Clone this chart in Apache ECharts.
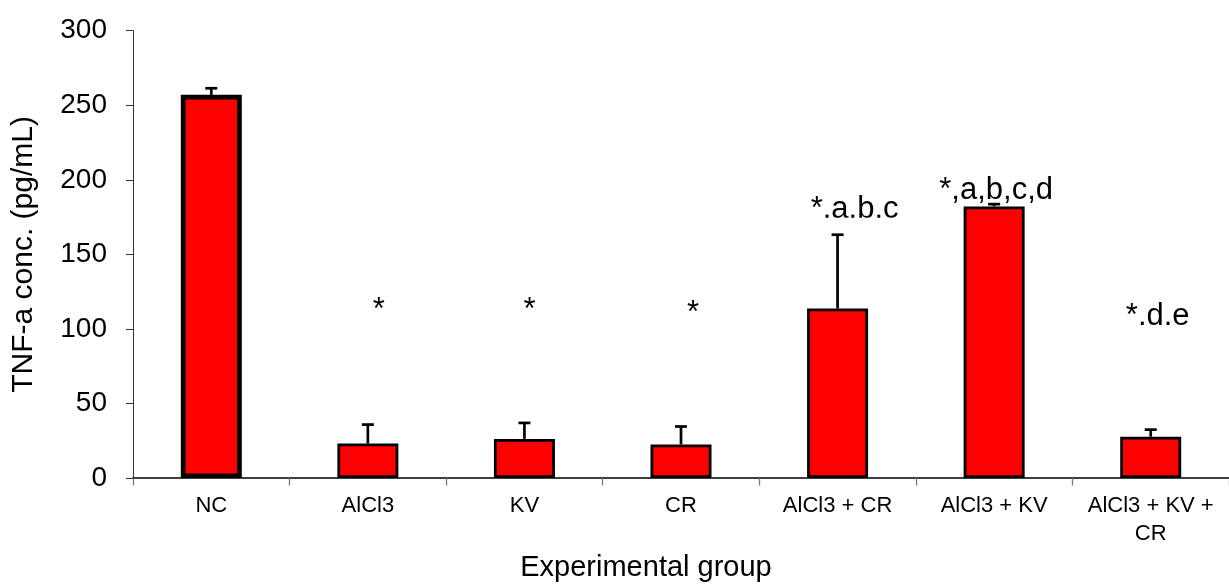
<!DOCTYPE html>
<html>
<head>
<meta charset="utf-8">
<script src="https://cdn.jsdelivr.net/npm/echarts@6/dist/echarts.min.js"></script>
<style>html,body{margin:0;padding:0;background:#fff}#c{width:1229px;height:587px}</style>
</head>
<body>
<div id="c"></div>
<script>
const categories = ['NC', 'AlCl3', 'KV', 'CR', 'AlCl3 + CR', 'AlCl3 + KV', 'AlCl3 + KV +\nCR'];
const means = [257, 23.2, 26.3, 22.6, 113.7, 182.2, 27.8];
const errors = [4.4, 12.7, 10.7, 12, 49.5, 1.5, 4.7];
const annotationText = ['', '*', '*', '*', '*.a.b.c', '*,a,b,c,d', '*.d.e'];
const annotationY = [null, 112.1, 112.1, 110.2, 180, 193, 108.5];
const annotationClipped = [false, false, false, false, true, false, false];
const yTicks = [0, 50, 100, 150, 200, 250, 300];

const annOffsetX = [0, 11, 5, 12, 17, 2, 7];
const FONT = 'Liberation Sans, Arial, sans-serif';
const ANN_SIZE = 31;

const chart = echarts.init(document.getElementById('c'));
const barData = means.map((v, i) => ({
  value: v,
  itemStyle: { borderWidth: i === 0 ? 4.7 : 2.8 }
}));
const annData = [];
annotationText.forEach((t, i) => {
  if (t) annData.push([i, annotationY[i]]);
});

chart.setOption({
  animation: false,
  grid: { left: 133, top: 30.7, width: 1106, bottom: 88.7, containLabel: false },
  xAxis: {
    type: 'category',
    data: categories,
    axisLine: { lineStyle: { color: '#000', width: 1.5 } },
    axisTick: { show: true, length: 7.5, lineStyle: { color: '#777', width: 1.3 } },
    axisLabel: { color: '#000', fontFamily: FONT, fontSize: 22, margin: 14, lineHeight: 28, interval: 0 },
    name: 'Experimental group',
    nameLocation: 'middle',
    nameGap: 62,
    nameTextStyle: { color: '#000', fontFamily: FONT, fontSize: 29, padding: [0, 70, 0, 0] }
  },
  yAxis: {
    type: 'value',
    min: 0, max: 300, interval: 50,
    splitLine: { show: false },
    axisLine: { show: true, lineStyle: { color: '#333', width: 1 } },
    axisTick: { show: true, length: 7, lineStyle: { color: '#333' } },
    axisLabel: { color: '#000', fontFamily: FONT, fontSize: 28, margin: 26, padding: [0, 0, 8, 0],
      formatter: v => yTicks.includes(v) ? String(v) : '' },
    name: 'TNF-a conc. (pg/mL)',
    nameLocation: 'middle',
    nameGap: 94,
    nameTextStyle: { color: '#000', fontFamily: FONT, fontSize: 30 }
  },
  series: [
    {
      type: 'bar',
      data: barData,
      barWidth: 61,
      itemStyle: { color: '#ff0000', borderColor: '#000', borderWidth: 2.8 },
      z: 2
    },
    {
      type: 'custom',
      data: means.map((v, i) => [i, v, v + errors[i]]),
      renderItem: function (params, api) {
        const i = api.value(0);
        const p0 = api.coord([i, api.value(1)]);
        const p1 = api.coord([i, api.value(2)]);
        const hw = 6;
        return {
          type: 'group',
          children: [
            { type: 'line', shape: { x1: p0[0], y1: p0[1], x2: p1[0], y2: p1[1] }, style: { stroke: '#000', lineWidth: 2.7 } },
            { type: 'line', shape: { x1: p1[0] - hw, y1: p1[1], x2: p1[0] + hw, y2: p1[1] }, style: { stroke: '#000', lineWidth: 2.7 } }
          ]
        };
      },
      z: 1
    },
    {
      type: 'custom',
      data: annData,
      renderItem: function (params, api) {
        const i = api.value(0);
        const p = api.coord([i, api.value(1)]);
        const x = p[0] + annOffsetX[i];
        const el = {
          type: 'text',
          x: x, y: p[1],
          style: {
            text: annotationText[i],
            fill: '#000',
            font: ANN_SIZE + 'px ' + FONT,
            align: 'center',
            verticalAlign: 'middle'
          }
        };
        if (annotationClipped[i]) {
          el.clipPath = { type: 'rect', shape: { x: -200, y: -100, width: 400, height: 100 + ANN_SIZE * 0.26 } };
        }
        return el;
      },
      z: 3
    }
  ]
});
</script>
</body>
</html>
